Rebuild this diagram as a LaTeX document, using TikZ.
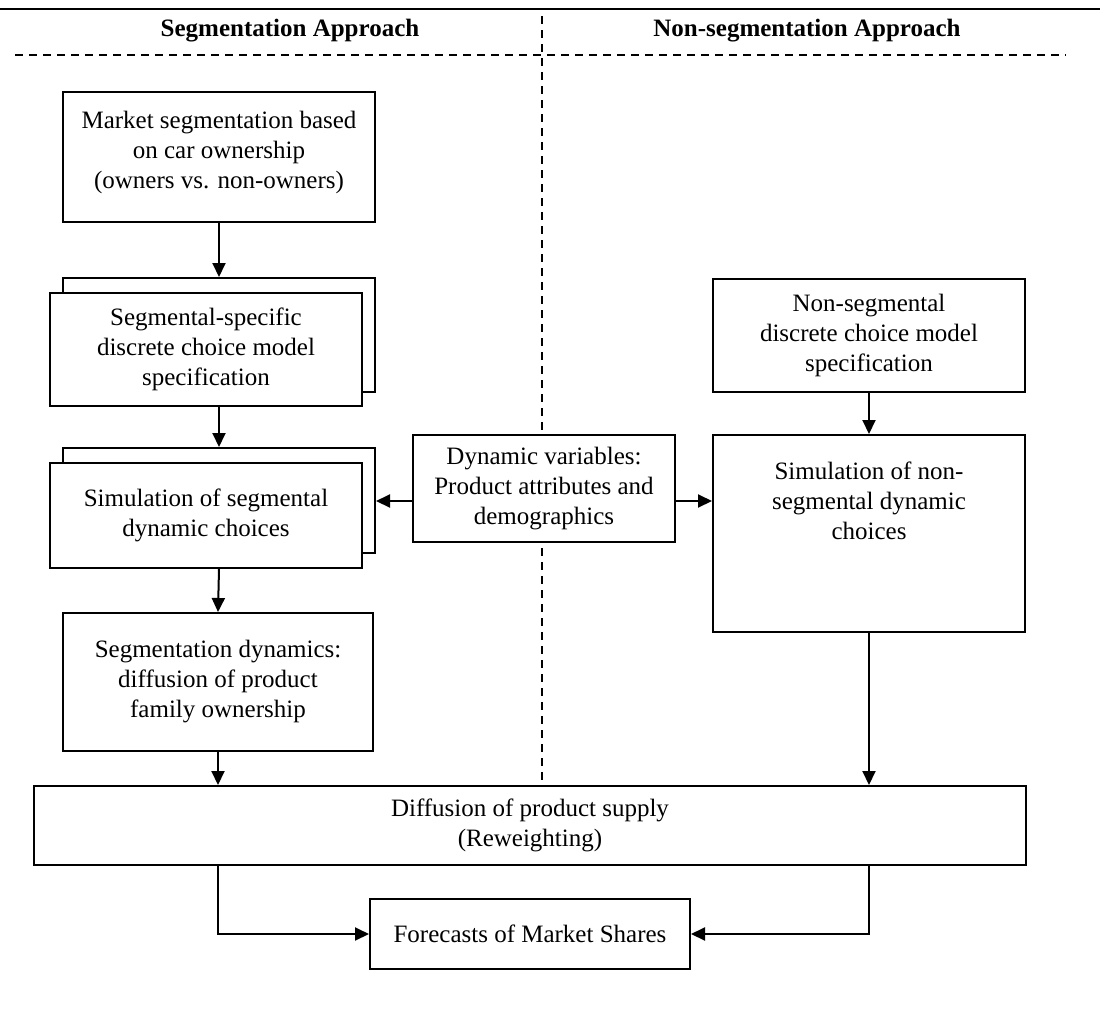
\documentclass[tikz,border=0pt]{standalone}
\usepackage{fontspec}
\setmainfont{Liberation Serif}
\usetikzlibrary{arrows.meta}
\begin{document}
\begin{tikzpicture}[x=0.5pt,y=-0.5pt,
  box/.style={draw, line width=1pt, fill=white, align=center, inner sep=0pt,
              font=\fontsize{12.5}{15}\selectfont},
  txt/.style={align=center, inner sep=0pt, font=\fontsize{12.5}{15}\selectfont},
  arr/.style={line width=1pt, -{Triangle[length=7pt,width=6.5pt]}},
  sep/.style={line width=0.7pt, dash pattern=on 4pt off 3pt},
  head/.style={inner sep=0pt, font=\fontsize{12.5}{15}\selectfont\bfseries}]
\useasboundingbox (0,0) rectangle (1100,1024);

% header rules and column titles
\coordinate (ruleL) at (0,9);
\coordinate (ruleR) at (1100,9);
\draw[line width=1.1pt] (ruleL) -- (ruleR);
\node[head] (hseg) at (290,31) {Segmentation Approach};
\node[head] (hnon) at (807,31) {Non-segmentation Approach};
\coordinate (hdL) at (15,55);
\coordinate (hdR) at (1066,55);
\draw[sep] (hdL) -- (hdR);
\coordinate (vdT) at (542,16);
\coordinate (vdB) at (542,786);
\draw[sep] (vdT) -- (vdB);

% segmentation column
\node[box, minimum width=156pt, minimum height=65pt] (mkt) at (219,157) {};
\node[txt] (mkttxt) at (219,152)
  {Market segmentation based\\on car ownership\\(owners vs. non-owners)};
\node[box, minimum width=156pt, minimum height=57pt] (segback) at (219,335) {};
\node[box, minimum width=156pt, minimum height=56.5pt] (segfront) at (206,349.5)
  {Segmental-specific\\discrete choice model\\specification};
\node[box, minimum width=156pt, minimum height=52.5pt] (simback) at (219,500.5) {};
\node[box, minimum width=156pt, minimum height=52.5pt] (simfront) at (206,515.5)
  {Simulation of segmental\\dynamic choices};
\node[box, minimum width=155pt, minimum height=69pt] (segdyn) at (218,682)
  {Segmentation dynamics:\\diffusion of product\\family ownership};

% shared inputs
\node[box, minimum width=131pt, minimum height=53.5pt] (dyn) at (544,488.5)
  {Dynamic variables:\\Product attributes and\\demographics};

% non-segmentation column
\node[box, minimum width=156pt, minimum height=56.5pt] (nonseg) at (869,335.5)
  {Non-segmental\\discrete choice model\\specification};
\node[box, minimum width=156pt, minimum height=98.5pt] (rsim) at (869,533.5) {};
\node[txt] (rsimtxt) at (869,501)
  {Simulation of non-\\segmental dynamic\\choices};

% common stages
\node[box, minimum width=496pt, minimum height=39.5pt] (diff) at (530,825.5)
  {Diffusion of product supply\\(Reweighting)};
\node[box, minimum width=160pt, minimum height=35pt] (fc) at (530,934)
  {Forecasts of Market Shares};

% connectors
\draw[arr] (mkt.south) -- (segback.north);
\draw[arr] (segback.south |- segfront.south) -- (simback.north);
\draw[arr] (simback.south |- simfront.south) -- (segdyn.north);
\draw[arr] (segdyn.south) -- (segdyn.south |- diff.north);
\draw[arr] (dyn.west |- rsimtxt) -- (simback.east |- rsimtxt);
\draw[arr] (dyn.east |- rsimtxt) -- (rsim.west |- rsimtxt);
\draw[arr] (nonseg.south) -- (rsim.north);
\draw[arr] (rsim.south) -- (rsim.south |- diff.north);
\draw[arr] (segdyn.south |- diff.south) |- (fc.west);
\draw[arr] (rsim.south |- diff.south) |- (fc.east);
\end{tikzpicture}
\end{document}
